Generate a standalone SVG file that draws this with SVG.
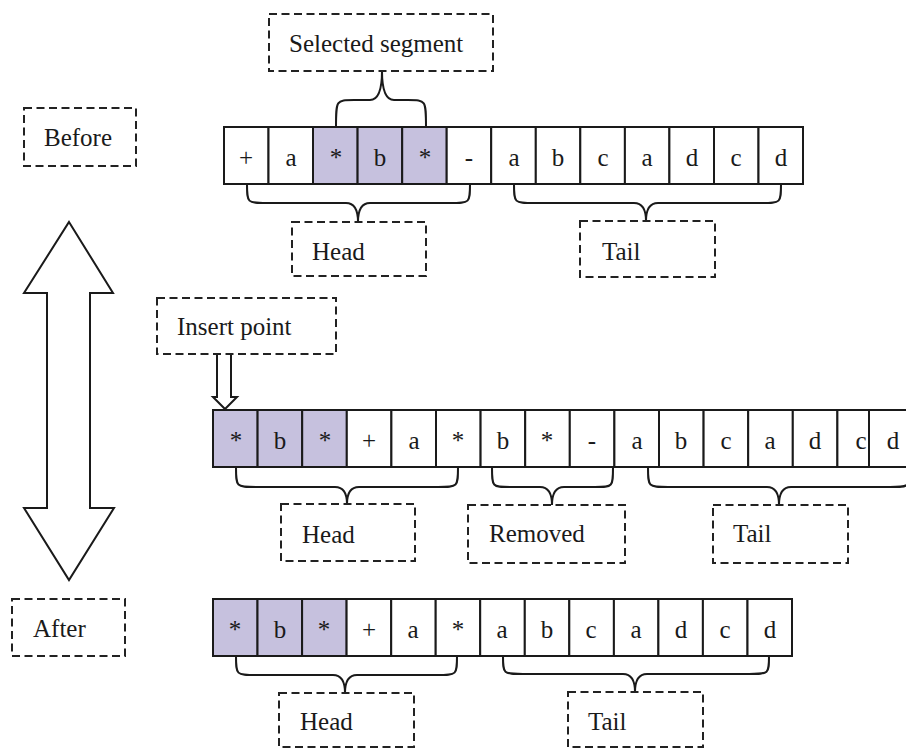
<svg xmlns="http://www.w3.org/2000/svg" width="906" height="749" viewBox="0 0 906 749">
<style>
.cell{fill:#ffffff;stroke:#1a1a1a;stroke-width:2}
.sel{fill:#c6c1de;stroke:#1a1a1a;stroke-width:2}
.ct{font-family:"Liberation Serif","Times New Roman",serif;font-size:25px;fill:#1a1a1a;text-anchor:middle}
.lab{fill:#ffffff;stroke:#222;stroke-width:2;stroke-dasharray:8 4.5}
.lt{font-family:"Liberation Serif","Times New Roman",serif;font-size:25px;fill:#1a1a1a}
.br{fill:none;stroke:#1a1a1a;stroke-width:2}
.arr{fill:#ffffff;stroke:#1a1a1a;stroke-width:2;stroke-linejoin:miter}
</style>
<rect width="906" height="749" fill="#ffffff"/>

<g id="connectors">
  <!-- selected segment brace (upward) -->
  <path class="br" d="M336 127 C336 100 336 100 354 100 L370 100 Q382 100 382 71 Q382 100 394 100 L408 100 C426 100 426 100 426 127"/>
  <!-- row 1 head brace -->
  <path class="br" d="M247 184 C247 203 247 203 267 203 L346 203 Q358 203 358 222 Q358 203 370 203 L450 203 C470 203 470 203 470 184"/>
  <!-- row 1 tail brace -->
  <path class="br" d="M514 184 C514 203 514 203 534 203 L634 203 Q646 203 646 221 Q646 203 658 203 L761 203 C781 203 781 203 781 184"/>
  <!-- row 2 head brace -->
  <path class="br" d="M236 467 C236 487 236 487 256 487 L335 487 Q347 487 347 504 Q347 487 359 487 L438 487 C458 487 458 487 458 467"/>
  <!-- row 2 removed brace -->
  <path class="br" d="M492 467 C492 487 492 487 510 487 L540 487 Q552 487 552 505 Q552 487 564 487 L595 487 C613 487 613 487 613 467"/>
  <!-- row 2 tail brace -->
  <path class="br" d="M648 467 C648 487 648 487 668 487 L767 487 Q779 487 779 505 Q779 487 791 487 L890 487 C910 487 910 487 910 467"/>
  <!-- row 3 head brace -->
  <path class="br" d="M236 656 C236 675 236 675 256 675 L333 675 Q345 675 345 693 Q345 675 357 675 L437 675 C457 675 457 675 457 656"/>
  <!-- row 3 tail brace -->
  <path class="br" d="M503 656 C503 674 503 674 523 674 L623 674 Q635 674 635 692 Q635 674 647 674 L749 674 C769 674 769 674 769 656"/>
  <!-- insert point arrow -->
  <path class="arr" d="M217 354 L217 397 L213 397 L225 409 L237 397 L231 397 L231 354"/>
  <!-- big double arrow -->
  <polygon class="arr" points="69,222 113,293 90,293 90,508 114,508 69,580 24,508 47,508 47,293 24,293"/>
</g>

<g id="label-selected">
  <rect class="lab" x="269" y="14" width="224" height="57"/>
  <text class="lt" x="289" y="52">Selected segment</text>
</g>
<g id="label-before">
  <rect class="lab" x="24" y="108" width="112" height="58"/>
  <text class="lt" x="44" y="146">Before</text>
</g>
<g id="label-head1">
  <rect class="lab" x="292" y="222" width="134" height="54"/>
  <text class="lt" x="312" y="260">Head</text>
</g>
<g id="label-tail1">
  <rect class="lab" x="580" y="221" width="135" height="56"/>
  <text class="lt" x="602" y="260">Tail</text>
</g>
<g id="label-insert">
  <rect class="lab" x="157" y="298" width="179" height="56"/>
  <text class="lt" x="177" y="335">Insert point</text>
</g>
<g id="label-head2">
  <rect class="lab" x="281" y="504" width="134" height="57"/>
  <text class="lt" x="302" y="543">Head</text>
</g>
<g id="label-removed">
  <rect class="lab" x="468" y="505" width="157" height="58"/>
  <text class="lt" x="489" y="542">Removed</text>
</g>
<g id="label-tail2">
  <rect class="lab" x="713" y="505" width="135" height="58"/>
  <text class="lt" x="733" y="542">Tail</text>
</g>
<g id="label-after">
  <rect class="lab" x="12" y="599" width="113" height="57"/>
  <text class="lt" x="33" y="637">After</text>
</g>
<g id="label-head3">
  <rect class="lab" x="279" y="693" width="135" height="54"/>
  <text class="lt" x="300" y="730">Head</text>
</g>
<g id="label-tail3">
  <rect class="lab" x="568" y="692" width="135" height="55"/>
  <text class="lt" x="588" y="730">Tail</text>
</g>

<g id="row-before">
  <rect class="cell" x="224" y="127" width="44.5" height="57"/>
  <rect class="cell" x="268.5" y="127" width="44.5" height="57"/>
  <rect class="sel" x="313" y="127" width="44.6" height="57"/>
  <rect class="sel" x="357.6" y="127" width="44.6" height="57"/>
  <rect class="sel" x="402.2" y="127" width="44.5" height="57"/>
  <rect class="cell" x="446.7" y="127" width="44.5" height="57"/>
  <rect class="cell" x="491.2" y="127" width="44.6" height="57"/>
  <rect class="cell" x="535.8" y="127" width="44.5" height="57"/>
  <rect class="cell" x="580.3" y="127" width="44.6" height="57"/>
  <rect class="cell" x="624.9" y="127" width="44.5" height="57"/>
  <rect class="cell" x="669.4" y="127" width="44.6" height="57"/>
  <rect class="cell" x="714" y="127" width="44.5" height="57"/>
  <rect class="cell" x="758.5" y="127" width="44.5" height="57"/>
  <text class="ct" x="246" y="166">+</text>
  <text class="ct" x="291" y="166">a</text>
  <text class="ct" x="336" y="166">*</text>
  <text class="ct" x="380" y="166">b</text>
  <text class="ct" x="425" y="166">*</text>
  <text class="ct" x="469" y="166">-</text>
  <text class="ct" x="514" y="166">a</text>
  <text class="ct" x="558" y="166">b</text>
  <text class="ct" x="603" y="166">c</text>
  <text class="ct" x="647" y="166">a</text>
  <text class="ct" x="692" y="166">d</text>
  <text class="ct" x="736" y="166">c</text>
  <text class="ct" x="781" y="166">d</text>
</g>

<g id="row-middle">
  <rect class="sel" x="213" y="410" width="44.6" height="57"/>
  <rect class="sel" x="257.6" y="410" width="44.6" height="57"/>
  <rect class="sel" x="302.2" y="410" width="44.6" height="57"/>
  <rect class="cell" x="346.8" y="410" width="44.6" height="57"/>
  <rect class="cell" x="391.4" y="410" width="44.6" height="57"/>
  <rect class="cell" x="436" y="410" width="44.6" height="57"/>
  <rect class="cell" x="480.6" y="410" width="44.6" height="57"/>
  <rect class="cell" x="525.2" y="410" width="44.6" height="57"/>
  <rect class="cell" x="569.8" y="410" width="44.6" height="57"/>
  <rect class="cell" x="614.4" y="410" width="44.6" height="57"/>
  <rect class="cell" x="659" y="410" width="44.6" height="57"/>
  <rect class="cell" x="703.6" y="410" width="44.6" height="57"/>
  <rect class="cell" x="748.2" y="410" width="44.6" height="57"/>
  <rect class="cell" x="792.8" y="410" width="44.6" height="57"/>
  <rect class="cell" x="837.4" y="410" width="31.6" height="57"/>
  <rect class="cell" x="869" y="410" width="46" height="57"/>
  <text class="ct" x="236" y="449">*</text>
  <text class="ct" x="280" y="449">b</text>
  <text class="ct" x="325" y="449">*</text>
  <text class="ct" x="369" y="449">+</text>
  <text class="ct" x="414" y="449">a</text>
  <text class="ct" x="458" y="449">*</text>
  <text class="ct" x="503" y="449">b</text>
  <text class="ct" x="547" y="449">*</text>
  <text class="ct" x="592" y="449">-</text>
  <text class="ct" x="637" y="449">a</text>
  <text class="ct" x="681" y="449">b</text>
  <text class="ct" x="726" y="449">c</text>
  <text class="ct" x="770" y="449">a</text>
  <text class="ct" x="815" y="449">d</text>
  <text class="ct" x="861" y="449">c</text>
  <text class="ct" x="893" y="449">d</text>
</g>

<g id="row-after">
  <rect class="sel" x="213" y="599" width="44.5" height="57"/>
  <rect class="sel" x="257.5" y="599" width="44.6" height="57"/>
  <rect class="sel" x="302.1" y="599" width="44.5" height="57"/>
  <rect class="cell" x="346.6" y="599" width="44.6" height="57"/>
  <rect class="cell" x="391.2" y="599" width="44.5" height="57"/>
  <rect class="cell" x="435.7" y="599" width="44.5" height="57"/>
  <rect class="cell" x="480.2" y="599" width="44.6" height="57"/>
  <rect class="cell" x="524.8" y="599" width="44.5" height="57"/>
  <rect class="cell" x="569.3" y="599" width="44.6" height="57"/>
  <rect class="cell" x="613.9" y="599" width="44.5" height="57"/>
  <rect class="cell" x="658.4" y="599" width="44.5" height="57"/>
  <rect class="cell" x="702.9" y="599" width="44.6" height="57"/>
  <rect class="cell" x="747.5" y="599" width="44.5" height="57"/>
  <text class="ct" x="235" y="638">*</text>
  <text class="ct" x="280" y="638">b</text>
  <text class="ct" x="324" y="638">*</text>
  <text class="ct" x="369" y="638">+</text>
  <text class="ct" x="413" y="638">a</text>
  <text class="ct" x="458" y="638">*</text>
  <text class="ct" x="502" y="638">a</text>
  <text class="ct" x="547" y="638">b</text>
  <text class="ct" x="591" y="638">c</text>
  <text class="ct" x="636" y="638">a</text>
  <text class="ct" x="681" y="638">d</text>
  <text class="ct" x="725" y="638">c</text>
  <text class="ct" x="770" y="638">d</text>
</g>
</svg>
